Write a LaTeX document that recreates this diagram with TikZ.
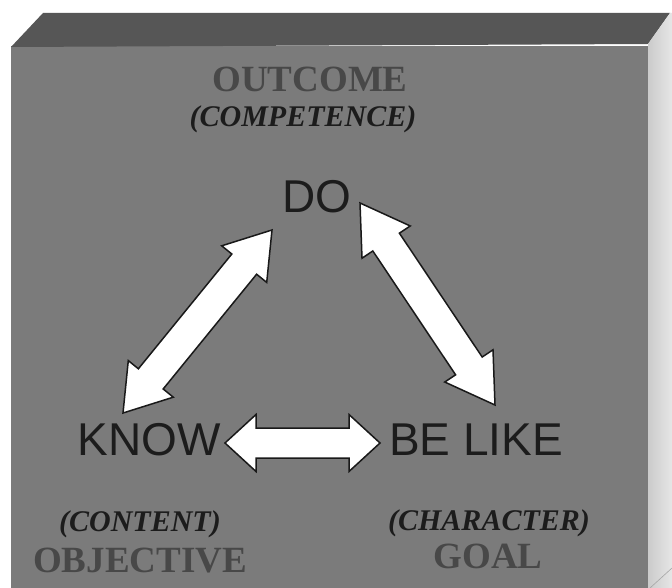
\documentclass[tikz,border=0pt]{standalone}
\usepackage{fontspec}
\setmainfont{Liberation Serif}
\newfontfamily\arialf{Liberation Sans}
\usetikzlibrary{calc}
\definecolor{frontgray}{HTML}{7B7B7B}
\definecolor{topgray}{HTML}{565656}
\definecolor{sidegrayA}{HTML}{CBCBCB}
\definecolor{sidegrayB}{HTML}{E6E6E6}
\definecolor{embossgray}{HTML}{484848}
\definecolor{inkgray}{HTML}{1C1C1C}
\tikzset{
  bigword/.style={font=\arialf\fontsize{46}{46}\selectfont, text=inkgray, inner sep=0pt, anchor=base},
  headword/.style={font=\bfseries\fontsize{37}{37}\selectfont, text=embossgray, inner sep=0pt, anchor=base},
  parenword/.style={font=\bfseries\itshape\fontsize{30}{30}\selectfont, text=inkgray, inner sep=0pt, anchor=base},
  blockarrow/.style={draw=black!90, line width=1.5pt, fill=white, line join=miter},
}
% #1,#2 tip coordinates; #3 head length; #4 head half width; #5 shaft half width
\newcommand\dblarrow[5]{%
  \draw[blockarrow] (#1)
    -- ($(#1)!#3!(#2)!#4!90:(#2)$)
    -- ($(#1)!#3!(#2)!#5!90:(#2)$)
    -- ($(#2)!#3!(#1)!#5!-90:(#1)$)
    -- ($(#2)!#3!(#1)!#4!-90:(#1)$)
    -- (#2)
    -- ($(#2)!#3!(#1)!#4!90:(#1)$)
    -- ($(#2)!#3!(#1)!#5!90:(#1)$)
    -- ($(#1)!#3!(#2)!#5!-90:(#2)$)
    -- ($(#1)!#3!(#2)!#4!-90:(#2)$)
    -- cycle;}
\begin{document}
\begin{tikzpicture}[x=1pt,y=-1pt]
  \useasboundingbox (0,0) rectangle (672,588);
  \fill[white] (0,0) rectangle (672,588);
  % block faces
  \fill[frontgray] (11,46) rectangle (648,588);
  \fill[topgray] (11,47) -- (43,13) -- (670,13) -- (648,44) -- cycle;
  \shade[left color=sidegrayA, right color=sidegrayB] (648,44) -- (670,13) -- (672,13) -- (672,588) -- (648,588) -- cycle;
  \draw[black!35, line width=0.6pt] (650,588) -- (672,568);
  % labels
  \node[headword] (outcome) at (310,92) {OUTCOME};
  \node[parenword] (competence) at (303,127) {(COMPETENCE)};
  \node[bigword] (do) at (317,213) {DO};
  \node[bigword] (know) at (149,455) {KNOW};
  \node[bigword] (belike) at (476,455) {BE LIKE};
  \node[parenword] (content) at (140,531) {(CONTENT)};
  \node[headword] (objective) at (140,572) {OBJECTIVE};
  \node[parenword] (character) at (489,530) {(CHARACTER)};
  \node[headword] (goal) at (488,568) {GOAL};
  % arrow tips
  \coordinate (kd1) at (123,413);
  \coordinate (kd2) at (272,230);
  \coordinate (db1) at (360,203);
  \coordinate (db2) at (495,405);
  \coordinate (kb1) at (225,443);
  \coordinate (kb2) at (380,443);
  \dblarrow{kd1}{kd2}{44pt}{29pt}{16pt}
  \dblarrow{db1}{db2}{47pt}{29pt}{16pt}
  \dblarrow{kb1}{kb2}{31pt}{28.5pt}{15pt}
\end{tikzpicture}
\end{document}
